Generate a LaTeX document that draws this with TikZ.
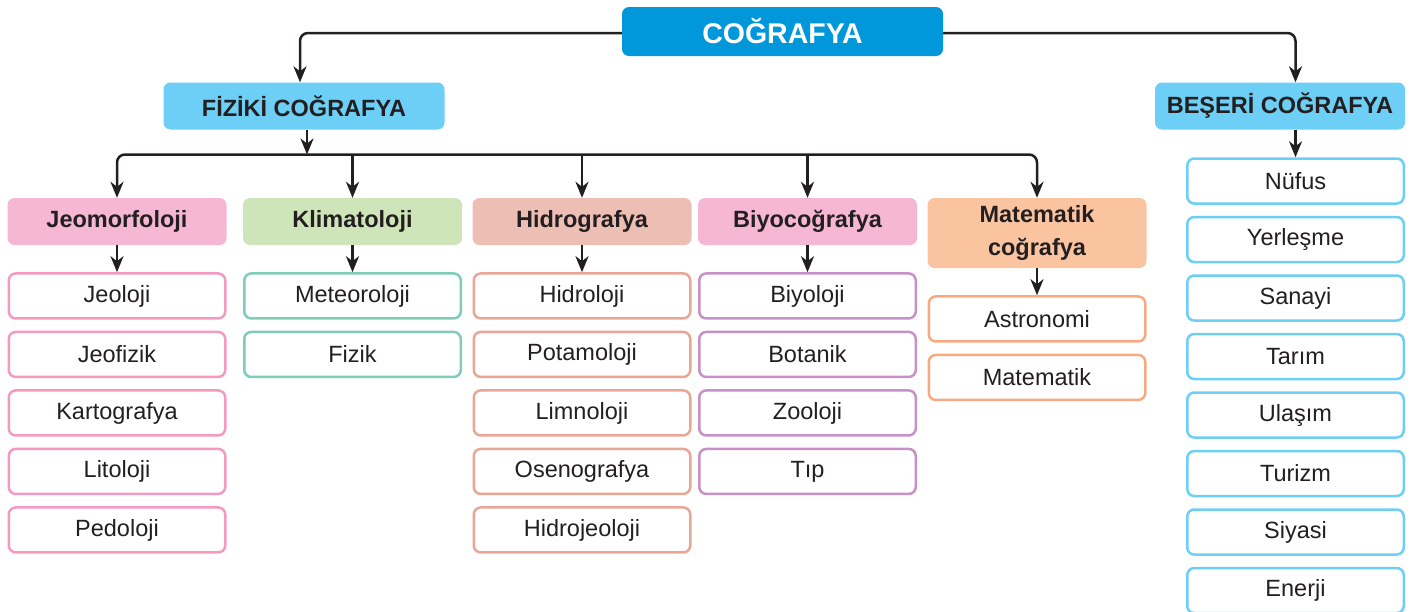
\documentclass[tikz,border=0pt]{standalone}
\usepackage{fontspec}
\setmainfont{Liberation Sans}
\usetikzlibrary{arrows.meta,positioning}

\definecolor{anamavi}{HTML}{0098DA}
\definecolor{acikmavi}{HTML}{6DCFF6}
\definecolor{pembe}{HTML}{F5B7D3}
\definecolor{pembecizgi}{HTML}{F49AC1}
\definecolor{yesil}{HTML}{CDE5B9}
\definecolor{yesilcizgi}{HTML}{7FCDB9}
\definecolor{somon}{HTML}{EDBEB4}
\definecolor{somoncizgi}{HTML}{E9A696}
\definecolor{morcizgi}{HTML}{C791C7}
\definecolor{turuncu}{HTML}{FBC4A1}
\definecolor{turuncucizgi}{HTML}{F7AA80}
\definecolor{yazi}{HTML}{231F20}

\tikzset{
  ana/.style={fill=anamavi,text=white,rounded corners=7pt,inner sep=0pt,
    minimum width=321pt,minimum height=49pt,font=\fontsize{28.5}{33}\selectfont\bfseries},
  dal/.style={fill=acikmavi,text=yazi,rounded corners=7pt,inner sep=0pt,
    minimum height=47pt,font=\fontsize{23.5}{33}\selectfont\bfseries},
  baslik/.style={fill=#1,text=yazi,rounded corners=7pt,inner sep=0pt,align=center,
    minimum width=219pt,minimum height=47pt,font=\fontsize{23.5}{33}\selectfont\bfseries},
  yaprak/.style={draw=#1,fill=white,text=yazi,line width=2.5pt,rounded corners=7pt,inner sep=0pt,
    minimum width=216.5pt,minimum height=45pt,font=\fontsize{23.5}{28}\selectfont},
  ok/.style={line width=2.5pt,color=yazi}
}

\begin{document}
\begin{tikzpicture}[x=1pt,y=-1pt,>={Stealth[length=16pt,width=13pt,inset=5pt]},node distance=11pt]
  \useasboundingbox (0,0) rectangle (1410,611);

  \node[ana] (cograf) at (782.5,31.5) {COĞRAFYA};
  \node[dal,minimum width=281pt] (fiziki) at (304,106) {FİZİKİ COĞRAFYA};
  \node[dal,minimum width=250pt] (beseri) at (1280,106) {BEŞERİ COĞRAFYA};

  % fiziki cografya dallari
  \node[baslik=pembe]   (jeo)   at (117,221.5)   {Jeomorfoloji};
  \node[baslik=yesil]   (klim)  at (352.5,221.5) {Klimatoloji};
  \node[baslik=somon]   (hidro) at (582,221.5)   {Hidrografya};
  \node[baslik=pembe]   (biyo)  at (807.5,221.5) {Biyocoğrafya};
  \node[baslik=turuncu,minimum height=70pt] (mat) at (1037,233) {Matematik\\coğrafya};

  \node[yaprak=pembecizgi] (jeo1) [below=27pt of jeo] {Jeoloji};
  \node[yaprak=pembecizgi] (jeo2) [below=of jeo1] {Jeofizik};
  \node[yaprak=pembecizgi] (jeo3) [below=of jeo2] {Kartografya};
  \node[yaprak=pembecizgi] (jeo4) [below=of jeo3] {Litoloji};
  \node[yaprak=pembecizgi] (jeo5) [below=of jeo4] {Pedoloji};

  \node[yaprak=yesilcizgi] (klim1) [below=27pt of klim] {Meteoroloji};
  \node[yaprak=yesilcizgi] (klim2) [below=of klim1] {Fizik};

  \node[yaprak=somoncizgi] (hidro1) [below=27pt of hidro] {Hidroloji};
  \node[yaprak=somoncizgi] (hidro2) [below=of hidro1] {Potamoloji};
  \node[yaprak=somoncizgi] (hidro3) [below=of hidro2] {Limnoloji};
  \node[yaprak=somoncizgi] (hidro4) [below=of hidro3] {Osenografya};
  \node[yaprak=somoncizgi] (hidro5) [below=of hidro4] {Hidrojeoloji};

  \node[yaprak=morcizgi] (biyo1) [below=27pt of biyo] {Biyoloji};
  \node[yaprak=morcizgi] (biyo2) [below=of biyo1] {Botanik};
  \node[yaprak=morcizgi] (biyo3) [below=of biyo2] {Zooloji};
  \node[yaprak=morcizgi] (biyo4) [below=of biyo3] {Tıp};

  \node[yaprak=turuncucizgi] (mat1) [below=27pt of mat] {Astronomi};
  \node[yaprak=turuncucizgi] (mat2) [below=of mat1] {Matematik};

  % beseri cografya
  \node[yaprak=acikmavi] (bes1) at (1295.5,181) {Nüfus};
  \node[yaprak=acikmavi] (bes2) [below=of bes1] {Yerleşme};
  \node[yaprak=acikmavi] (bes3) [below=of bes2] {Sanayi};
  \node[yaprak=acikmavi] (bes4) [below=of bes3] {Tarım};
  \node[yaprak=acikmavi] (bes5) [below=of bes4] {Ulaşım};
  \node[yaprak=acikmavi] (bes6) [below=of bes5] {Turizm};
  \node[yaprak=acikmavi] (bes7) [below=of bes6] {Siyasi};
  \node[yaprak=acikmavi] (bes8) [below=of bes7] {Enerji};

  \coordinate (cizgi) at (575,154.5);

  \draw[ok,->,rounded corners=8pt] ([yshift=-1.5pt]cograf.west) -| ([xshift=-4pt]fiziki.north);
  \draw[ok,->,rounded corners=8pt] ([yshift=-1.5pt]cograf.east) -| (beseri.north -| bes1);
  \draw[ok,->] ([xshift=3pt]fiziki.south) -- ([xshift=3pt]fiziki.south |- cizgi);
  \draw[ok,->] (beseri.south -| bes1) -- (bes1.north);

  \draw[ok,<->,rounded corners=8pt] (jeo.north) |- (cizgi) -| (mat.north);
  \draw[ok,->] (cizgi -| klim) -- (klim.north);
  \draw[ok,->] (cizgi -| hidro) -- (hidro.north);
  \draw[ok,->] (cizgi -| biyo) -- (biyo.north);

  \draw[ok,->] (jeo) -- (jeo1);
  \draw[ok,->] (klim) -- (klim1);
  \draw[ok,->] (hidro) -- (hidro1);
  \draw[ok,->] (biyo) -- (biyo1);
  \draw[ok,->] (mat) -- (mat1);
\end{tikzpicture}
\end{document}
